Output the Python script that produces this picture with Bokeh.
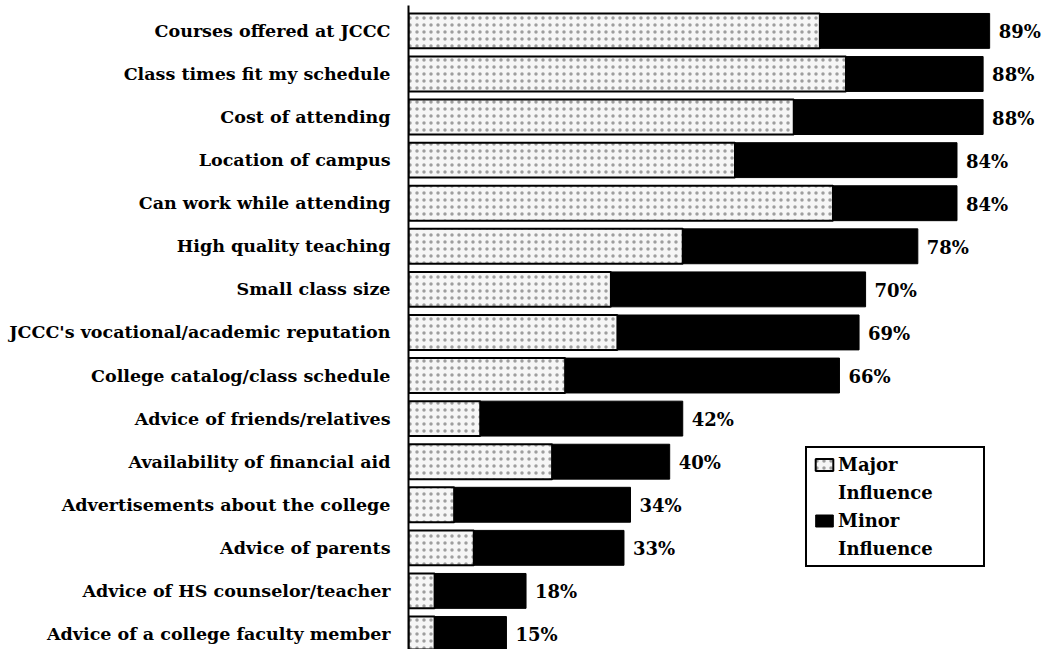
from bokeh.plotting import figure
from bokeh.models import Range1d, Legend, LegendItem, ColumnDataSource
from bokeh.core.properties import value
from bokeh.embed import file_html
from bokeh.resources import INLINE

# Reasons for choosing JCCC, share of students citing each as an influence
categories = [
    "Courses offered at JCCC",
    "Class times fit my schedule",
    "Cost of attending",
    "Location of campus",
    "Can work while attending",
    "High quality teaching",
    "Small class size",
    "JCCC's vocational/academic reputation",
    "College catalog/class schedule",
    "Advice of friends/relatives",
    "Availability of financial aid",
    "Advertisements about the college",
    "Advice of parents",
    "Advice of HS counselor/teacher",
    "Advice of a college faculty member",
]
total_pct = [89, 88, 88, 84, 84, 78, 70, 69, 66, 42, 40, 34, 33, 18, 15]
major_pct = [63, 67, 59, 50, 65, 42, 31, 32, 24, 11, 22, 7, 10, 4, 4]
minor_pct = [t - m for t, m in zip(total_pct, major_pct)]

FONT = "DejaVu Serif"
n = len(categories)
ypos = [n - 1 - i for i in range(n)]  # first category on top

src = ColumnDataSource(dict(
    y=ypos,
    major=major_pct,
    total=total_pct,
    label=[f"{t}%" for t in total_pct],
))

p = figure(
    width=1047, height=649,
    x_range=Range1d(0, 97.86),
    y_range=Range1d(-0.36, n - 1 + 0.59),
    x_axis_location=None,
    toolbar_location=None,
    output_backend="svg",
    min_border_left=408, min_border_right=0,
    min_border_top=5, min_border_bottom=0,
)
p.outline_line_color = None
p.xgrid.visible = False
p.ygrid.visible = False
p.background_fill_color = "white"
p.border_fill_color = "white"

bar_h = 0.81
r_major = p.hbar(
    y="y", left=0, right="major", height=bar_h, source=src,
    fill_color="#f6f6f6", line_color="black", line_width=2,
    hatch_pattern="dot", hatch_color="#555555", hatch_alpha=0.55,
    hatch_scale=7, hatch_weight=1,
)
r_minor = p.hbar(
    y="y", left="major", right="total", height=bar_h, source=src,
    fill_color="black", line_color="black", line_width=1,
)
# invisible renderer used for the second line of each legend entry
r_blank = p.hbar(y=[], left=[], right=[], height=bar_h,
                 fill_alpha=0, line_alpha=0)

p.text(
    x="total", y="y", text="label", source=src,
    x_offset=9, y_offset=1,
    text_font=value(FONT), text_font_style="bold", text_font_size="18px",
    text_baseline="middle", text_align="left", text_color="black",
)

yax = p.yaxis[0]
yax.ticker = ypos
yax.major_label_overrides = {y: c for y, c in zip(ypos, categories)}
yax.major_label_text_font = FONT
yax.major_label_text_font_style = "bold"
yax.major_label_text_font_size = "17.5px"
yax.major_label_text_color = "black"
yax.major_label_standoff = 12
yax.major_tick_line_color = None
yax.minor_tick_line_color = None
yax.axis_line_color = "black"
yax.axis_line_width = 2

legend = Legend(
    items=[
        LegendItem(label="Major", renderers=[r_major]),
        LegendItem(label="Influence", renderers=[r_blank]),
        LegendItem(label="Minor", renderers=[r_minor]),
        LegendItem(label="Influence", renderers=[r_blank]),
    ],
    location=(397, 82),
    orientation="vertical",
    border_line_color="black", border_line_width=2, border_line_alpha=1,
    background_fill_color="white", background_fill_alpha=1,
    label_text_font=FONT, label_text_font_style="bold",
    label_text_font_size="18px", label_text_color="black",
    glyph_width=22, glyph_height=15,
    label_standoff=3, label_width=139, label_height=21,
    padding=6, spacing=7, margin=0,
)
p.add_layout(legend, "center")

with open("out.html", "w") as f:
    f.write(file_html(p, INLINE))
